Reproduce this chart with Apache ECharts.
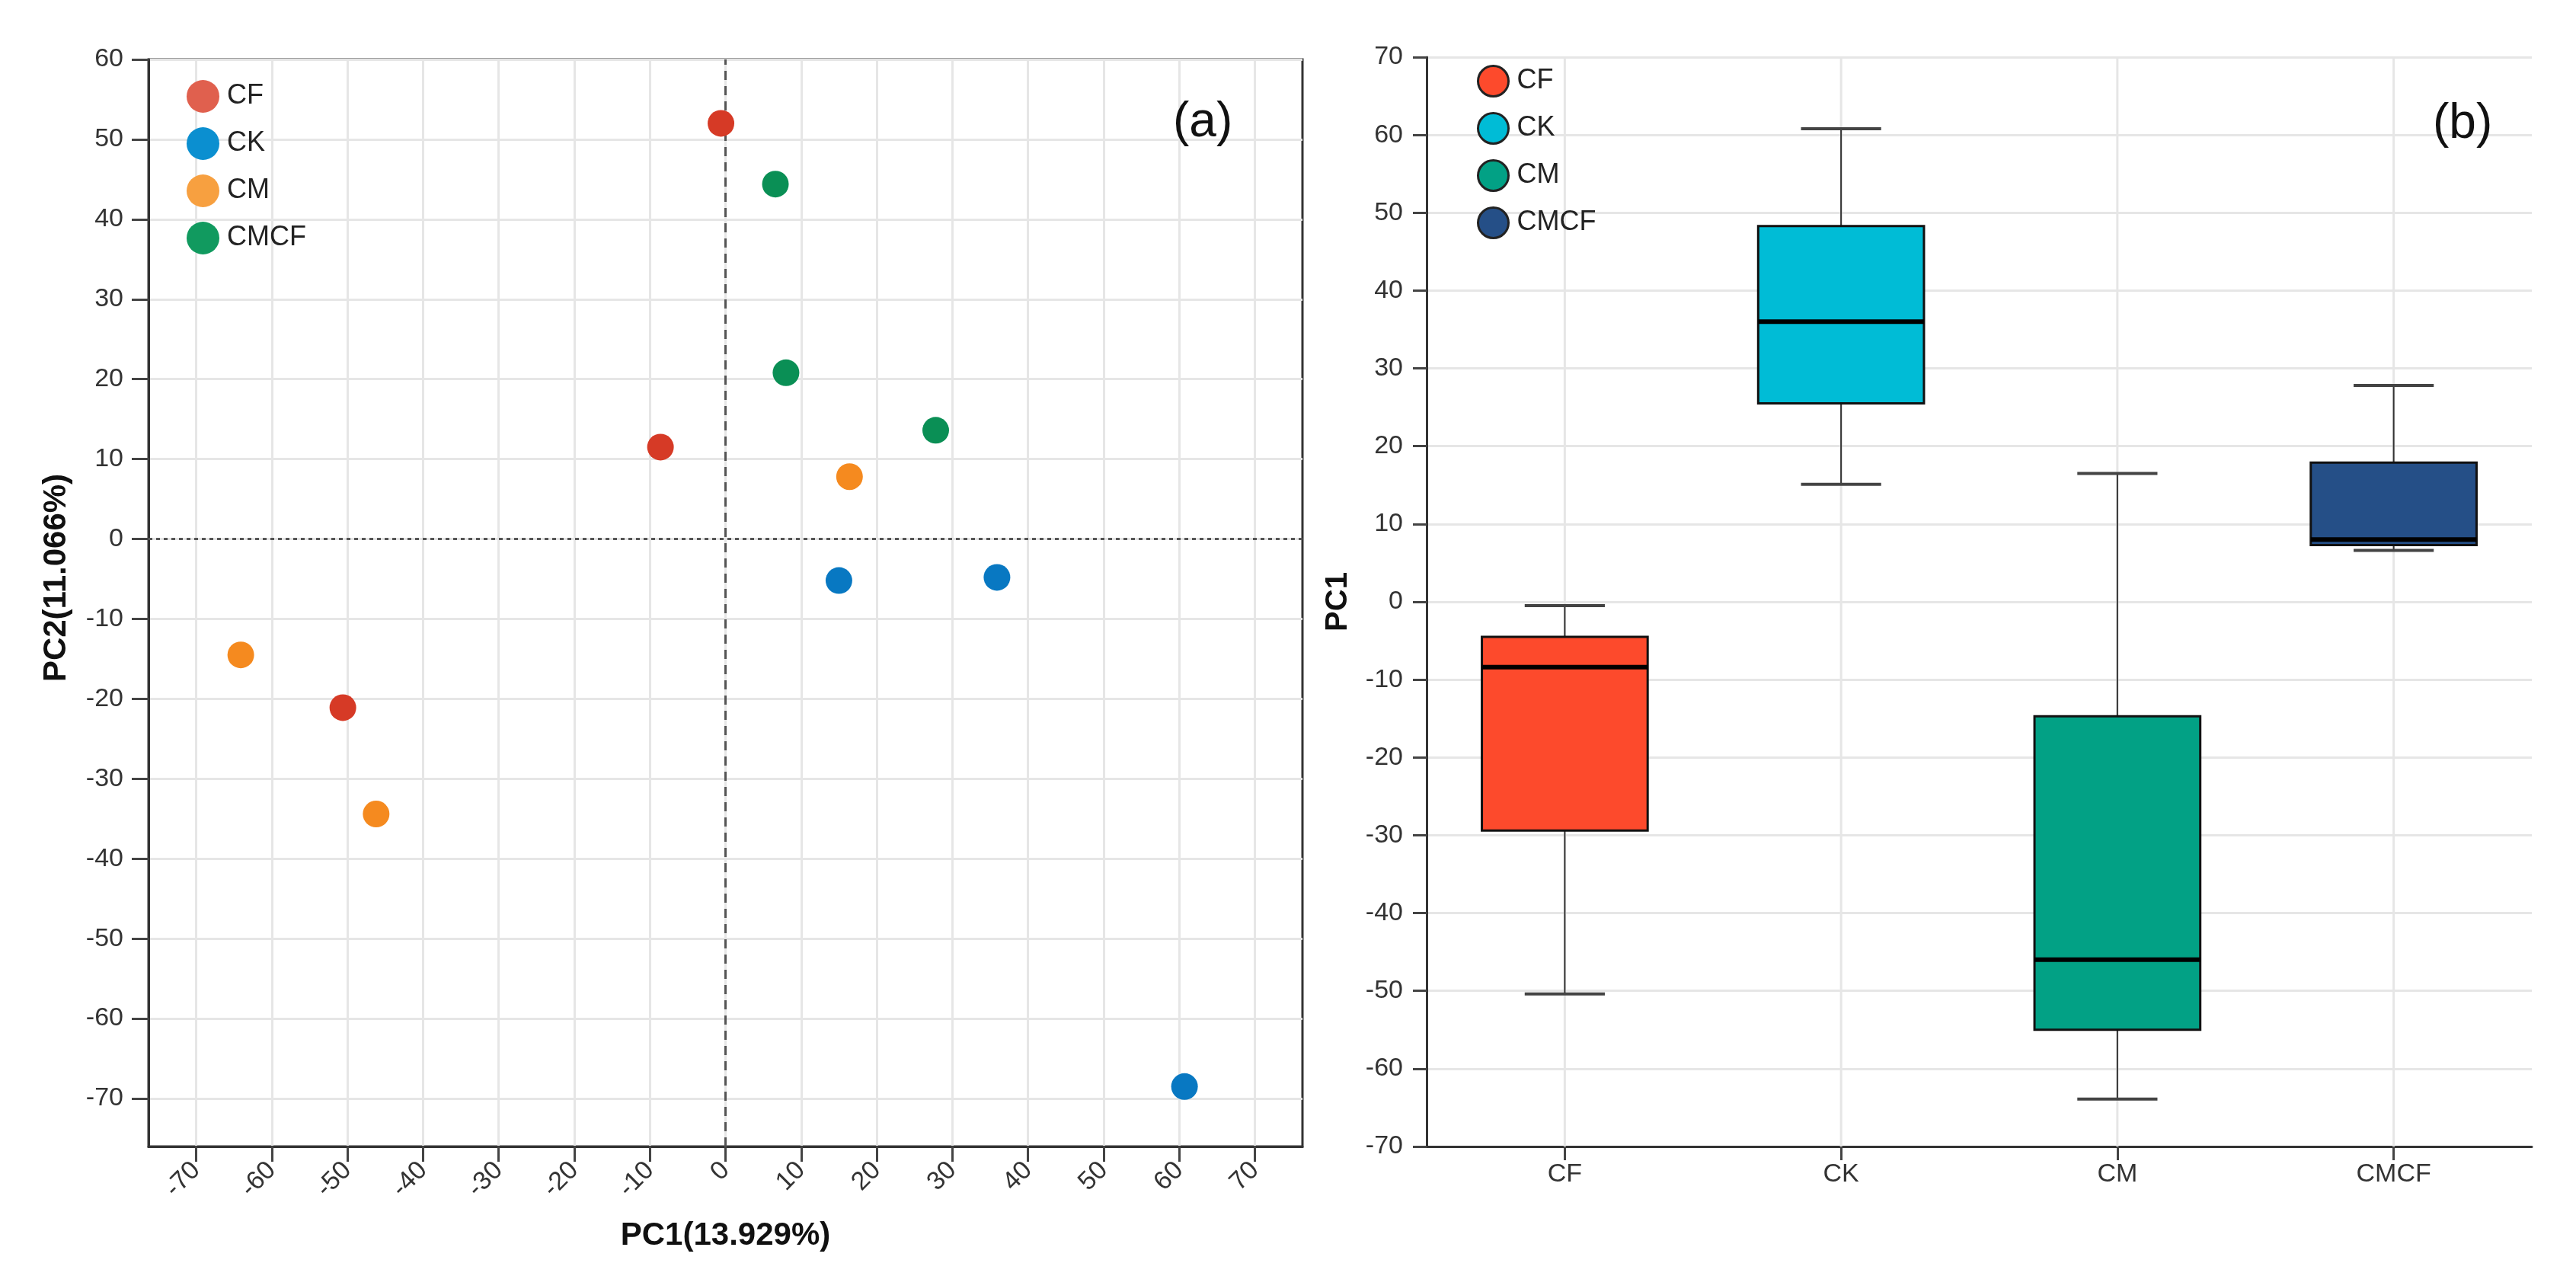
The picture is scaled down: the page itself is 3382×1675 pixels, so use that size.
<!DOCTYPE html>
<html>
<head>
<meta charset="utf-8">
<title>PCA</title>
<script src="https://cdn.jsdelivr.net/npm/echarts@6.0.0/dist/echarts.min.js"></script>
<style>
	html, body { margin: 0; padding: 0; background: #fff; }
	#main { width: 3382px; height: 1675px; }
</style>
</head>
<body>
<div id="main"></div>
<script>
// groups
var groups = ['CF', 'CK', 'CM', 'CMCF'];

// (a) PCA scores [PC1, PC2]
var pcaCF = [[-0.6, 52.0], [-8.6, 11.5], [-50.6, -21.1]];
var pcaCK = [[15.0, -5.2], [35.9, -4.8], [60.7, -68.5]];
var pcaCM = [[16.4, 7.8], [-64.1, -14.5], [-46.2, -34.4]];
var pcaCMCF = [[6.6, 44.4], [8.0, 20.8], [27.8, 13.6]];

// (b) PC1 box stats [min, q1, median, q3, max]
var boxCF = [-50.4, -29.4, -8.4, -4.5, -0.5];
var boxCK = [15.1, 25.5, 36.0, 48.3, 60.8];
var boxCM = [-63.9, -55.0, -46.0, -14.7, 16.5];
var boxCMCF = [6.6, 7.3, 8.0, 17.9, 27.8];

// tick labels
var pcaTicksX = [-70, -60, -50, -40, -30, -20, -10, 0, 10, 20, 30, 40, 50, 60, 70];
var pcaTicksY = [-70, -60, -50, -40, -30, -20, -10, 0, 10, 20, 30, 40, 50, 60];

var font = "'Liberation Sans', Arial, sans-serif";
var dotColors = ['#d63a26', '#0878c2', '#f58a1f', '#0a8f55'];
var dotLegendColors = ['#e0604e', '#0b8fd0', '#f7a040', '#119a5f'];
var boxColors = ['#fd4a2c', '#00bcd6', '#02a185', '#254f87'];
var gridColor = '#e6e6e6';
var axisColor = '#333333';

function renderBox(params, api) {
	var x = api.value(0);
	var pMin = api.coord([x, api.value(1)]);
	var pQ1 = api.coord([x, api.value(2)]);
	var pMed = api.coord([x, api.value(3)]);
	var pQ3 = api.coord([x, api.value(4)]);
	var pMax = api.coord([x, api.value(5)]);
	var band = api.size([1, 0])[0];
	var bw = band * 0.6;
	var cw = band * 0.29;
	var cx = pMed[0];
	var cs = params.coordSys;
	var whisker = { stroke: '#333', lineWidth: 2 };
	var cap = { stroke: '#444', lineWidth: 4 };
	return {
		type: 'group',
		children: [
			{ type: 'line', shape: { x1: cx, y1: cs.y, x2: cx, y2: cs.y + cs.height }, style: { stroke: gridColor, lineWidth: 3 } },
			{ type: 'line', shape: { x1: cx, y1: pMax[1], x2: cx, y2: pQ3[1] }, style: whisker },
			{ type: 'line', shape: { x1: cx, y1: pQ1[1], x2: cx, y2: pMin[1] }, style: whisker },
			{ type: 'line', shape: { x1: cx - cw / 2, y1: pMax[1], x2: cx + cw / 2, y2: pMax[1] }, style: cap },
			{ type: 'line', shape: { x1: cx - cw / 2, y1: pMin[1], x2: cx + cw / 2, y2: pMin[1] }, style: cap },
			{ type: 'rect', shape: { x: cx - bw / 2, y: pQ3[1], width: bw, height: pQ1[1] - pQ3[1] }, style: { fill: api.visual('color'), stroke: '#111', lineWidth: 3 } },
			{ type: 'line', shape: { x1: cx - bw / 2, y1: pMed[1], x2: cx + bw / 2, y2: pMed[1] }, style: { stroke: '#000', lineWidth: 6 } }
		]
	};
}

window.onload = function() {
	var pcaData = [pcaCF, pcaCK, pcaCM, pcaCMCF];
	var boxData = [boxCF, boxCK, boxCM, boxCMCF];
	var series = [];
	for (var i = 0; i < groups.length; i++) {
		var s = {
			name: groups[i],
			type: 'scatter',
			xAxisIndex: 0,
			yAxisIndex: 0,
			symbolSize: 35,
			itemStyle: { color: dotColors[i], opacity: 1 },
			data: pcaData[i],
			z: 5
		};
		if (i == 0) {
			s.markLine = {
				silent: true,
				symbol: 'none',
				label: { show: false },
				lineStyle: { color: '#555', width: 3 },
				data: [
					{ xAxis: 0, lineStyle: { type: [12, 8] } },
					{ yAxis: 0, lineStyle: { type: [5, 5] } }
				]
			};
		}
		series.push(s);
	}
	for (var j = 0; j < groups.length; j++) {
		series.push({
			name: groups[j] + ' ',
			type: 'custom',
			xAxisIndex: 1,
			yAxisIndex: 1,
			renderItem: renderBox,
			itemStyle: { color: boxColors[j] },
			encode: { x: 0, y: [1, 2, 3, 4, 5] },
			data: [[j].concat(boxData[j])]
		});
	}

	var legendA = [], legendB = [];
	for (var k = 0; k < groups.length; k++) {
		legendA.push({ name: groups[k], icon: 'circle', itemStyle: { color: dotLegendColors[k] } });
		legendB.push({ name: groups[k] + ' ', icon: 'circle', itemStyle: { color: boxColors[k], borderColor: '#222', borderWidth: 3 } });
	}

	var labelStyle = { color: '#333', fontSize: 34, fontFamily: font };
	var option = {
		animation: false,
		textStyle: { fontFamily: font },
		title: [
			{ text: '(a)', left: 1535, top: 124, textStyle: { fontSize: 64, fontWeight: 'normal', color: '#111', fontFamily: font } },
			{ text: '(b)', left: 3189, top: 126, textStyle: { fontSize: 64, fontWeight: 'normal', color: '#111', fontFamily: font } }
		],
		legend: [
			{
				orient: 'vertical', left: 245, top: 105, padding: 0,
				itemWidth: 43, itemHeight: 43, itemGap: 19,
				textStyle: { fontSize: 36, color: '#222', fontFamily: font, padding: [0, 0, 0, 5] },
				data: legendA
			},
			{
				orient: 'vertical', left: 1939, top: 85, padding: 0,
				itemWidth: 40, itemHeight: 40, itemGap: 19,
				textStyle: { fontSize: 36, color: '#222', fontFamily: font, padding: [0, 0, 0, 6] },
				data: legendB
			}
		],
		grid: [
			{ left: 195, top: 78, width: 1515, height: 1427, show: true, borderColor: axisColor, borderWidth: 3, backgroundColor: 'transparent' },
			{ left: 1873, top: 75, right: 58, bottom: 170 }
		],
		xAxis: [
			{
				gridIndex: 0, type: 'value', min: -76.3, max: 76.3,
				name: 'PC1(13.929%)', nameLocation: 'middle', nameGap: 96,
				nameTextStyle: { fontSize: 42, fontWeight: 'bold', color: '#111', fontFamily: font },
				axisLine: { show: true, onZero: false, lineStyle: { color: axisColor, width: 3 } },
				axisTick: { show: true, length: 20, lineStyle: { color: '#444', width: 3 }, customValues: pcaTicksX },
				axisLabel: Object.assign({ rotate: 45, margin: 26, customValues: pcaTicksX }, labelStyle),
				splitLine: { show: true, lineStyle: { color: gridColor, width: 3 } }
			},
			{
				gridIndex: 1, type: 'category', data: groups, boundaryGap: true,
				axisLine: { show: true, onZero: false, lineStyle: { color: axisColor, width: 3 } },
				axisTick: { show: true, alignWithLabel: true, length: 18, lineStyle: { color: '#444', width: 3 } },
				axisLabel: Object.assign({ margin: 20 }, labelStyle),
				splitLine: { show: false }
			}
		],
		yAxis: [
			{
				gridIndex: 0, type: 'value', min: -76, max: 60,
				name: 'PC2(11.066%)', nameLocation: 'middle', nameGap: 100,
				nameTextStyle: { fontSize: 42, fontWeight: 'bold', color: '#111', fontFamily: font, padding: [0, 0, 0, 66] },
				axisLine: { show: true, onZero: false, lineStyle: { color: axisColor, width: 3 } },
				axisTick: { show: true, length: 22, lineStyle: { color: '#444', width: 3 }, customValues: pcaTicksY },
				axisLabel: Object.assign({ margin: 33, customValues: pcaTicksY }, labelStyle),
				splitLine: { show: true, lineStyle: { color: gridColor, width: 3 } }
			},
			{
				gridIndex: 1, type: 'value', min: -70, max: 70, interval: 10,
				name: 'PC1', nameLocation: 'middle', nameGap: 96,
				nameTextStyle: { fontSize: 40, fontWeight: 'bold', color: '#111', fontFamily: font },
				axisLine: { show: true, onZero: false, lineStyle: { color: axisColor, width: 3 } },
				axisTick: { show: true, length: 18, lineStyle: { color: '#444', width: 3 } },
				axisLabel: Object.assign({ margin: 31 }, labelStyle),
				splitLine: { show: true, lineStyle: { color: gridColor, width: 3 } }
			}
		],
		series: series
	};
	var myChart = echarts.init(document.getElementById('main'));
	myChart.setOption(option);
};
</script>
</body>
</html>
